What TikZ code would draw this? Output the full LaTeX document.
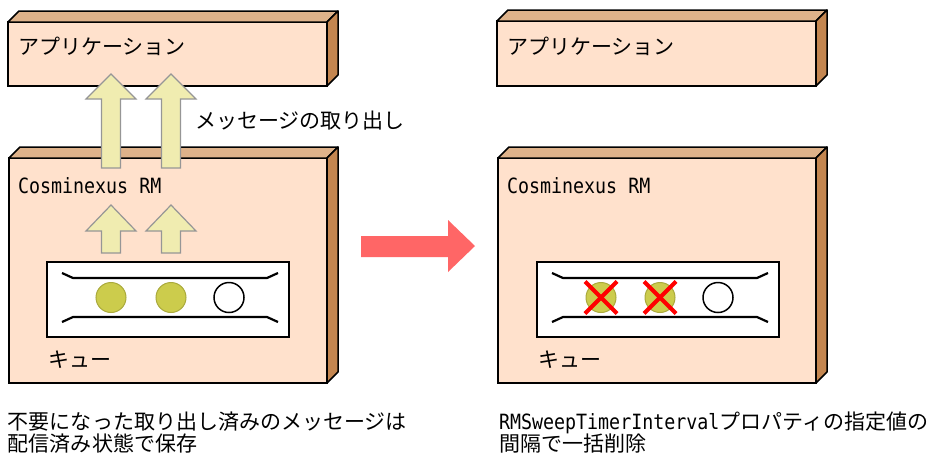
\documentclass[tikz,border=0pt]{standalone}
\usepackage{fontspec}
\setmainfont{Noto Sans CJK JP}
\newfontfamily\lat[FakeStretch=0.872]{DejaVu Sans Mono}
\definecolor{frontc}{RGB}{255,225,204}
\definecolor{topc}{RGB}{222,178,138}
\definecolor{sidec}{RGB}{196,134,80}
\definecolor{arrowy}{RGB}{240,236,176}
\definecolor{arrowg}{RGB}{150,150,150}
\definecolor{olive}{RGB}{204,204,76}
\definecolor{oliveb}{RGB}{170,170,60}
\definecolor{redarrow}{RGB}{255,102,102}
\tikzset{
  front/.style={draw=black, line width=1.5pt, fill=frontc, inner sep=0pt, outer sep=0pt, rectangle, anchor=north west},
  topface/.style={draw=black, line width=1.5pt, fill=topc, line join=round},
  sideface/.style={draw=black, line width=1.5pt, fill=sidec, line join=round},
  queuebox/.style={draw=black, line width=1.3pt, fill=white, inner sep=0pt, outer sep=0pt, rectangle, anchor=north west, minimum width=242pt, minimum height=75pt},
  qline/.style={draw=black, line width=2.2pt},
  msg/.style={circle, draw=oliveb, line width=1pt, fill=olive, minimum size=30pt, inner sep=0pt},
  msgempty/.style={circle, draw=black, line width=1.5pt, fill=white, minimum size=30pt, inner sep=0pt},
  uparrow/.style={draw=arrowg, line width=1.2pt, fill=arrowy, line join=miter},
  crossx/.style={draw=red, line width=4pt},
  lbl/.style={inner sep=0pt, outer sep=0pt, anchor=base west, font=\fontsize{21pt}{22pt}\selectfont},
}
\newcommand{\cuboidfaces}[1]{%
  \filldraw[topface] (#1.north west) -- ++(11pt,11pt) -- ([shift={(11pt,11pt)}]#1.north east) -- (#1.north east) -- cycle;
  \filldraw[sideface] (#1.north east) -- ++(11pt,11pt) -- ([shift={(11pt,11pt)}]#1.south east) -- (#1.south east) -- cycle;}
\newcommand{\queuelines}[1]{%
  \draw[qline] ([shift={(15pt,-11pt)}]#1.north west) -- ([shift={(26pt,-16pt)}]#1.north west) -- ([shift={(220pt,-16pt)}]#1.north west) -- ([shift={(231pt,-11pt)}]#1.north west);
  \draw[qline] ([shift={(15pt,-60pt)}]#1.north west) -- ([shift={(26pt,-55pt)}]#1.north west) -- ([shift={(220pt,-55pt)}]#1.north west) -- ([shift={(231pt,-60pt)}]#1.north west);}
\begin{document}
\begin{tikzpicture}[x=1pt,y=-1pt]
\useasboundingbox (0,0) rectangle (928,459);
\fill[white] (0,0) rectangle (928,459);
% left side
\node[front, minimum width=319pt, minimum height=64pt] (app1) at (8,22) {};
\cuboidfaces{app1}
\node[lbl] (app1lbl) at (18,54) {アプリケーション};
\node[front, minimum width=318pt, minimum height=225pt] (rm1) at (9,158) {};
\cuboidfaces{rm1}
\node[lbl] (rm1lbl) at (18,193) {\lat Cosminexus RM};
\node[queuebox] (q1) at (47,262) {};
\queuelines{q1}
\node[msg] (m11) at (111,297.5) {};
\node[msg] (m12) at (171,297.5) {};
\node[msgempty] (m13) at (229,297.5) {};
\node[lbl] (q1lbl) at (48,367) {キュー};
\foreach \cx in {111,171}{
  \filldraw[uparrow] (\cx,74) -- (\cx+25,99) -- (\cx+9.5,99) -- (\cx+9.5,168) -- (\cx-9.5,168) -- (\cx-9.5,99) -- (\cx-25,99) -- cycle;
  \filldraw[uparrow] (\cx,205) -- (\cx+25,231) -- (\cx+9.5,231) -- (\cx+9.5,253) -- (\cx-9.5,253) -- (\cx-9.5,231) -- (\cx-25,231) -- cycle;
}
\node[lbl] (getlbl) at (195,128) {メッセージの取り出し};
\node[lbl] (note1a) at (8,429.5) {不要になった取り出し済みのメッセージは};
\node[lbl] (note1b) at (8,451.5) {配信済み状態で保存};
% red arrow
\fill[redarrow] (361,236) -- (448,236) -- (448,220) -- (475,246) -- (448,272) -- (448,257) -- (361,257) -- cycle;
% right side
\node[front, minimum width=319pt, minimum height=65pt] (app2) at (497,21) {};
\cuboidfaces{app2}
\node[lbl] (app2lbl) at (507,54) {アプリケーション};
\node[front, minimum width=318pt, minimum height=225pt] (rm2) at (498,158) {};
\cuboidfaces{rm2}
\node[lbl] (rm2lbl) at (507,193) {\lat Cosminexus RM};
\node[queuebox] (q2) at (537,262) {};
\queuelines{q2}
\node[msg] (m21) at (601,297.5) {};
\node[msg] (m22) at (660,297.5) {};
\node[msgempty] (m23) at (718,297.5) {};
\foreach \m in {m21,m22}{
  \draw[crossx] ([shift={(-16pt,16pt)}]\m.center) -- ([shift={(16pt,-16pt)}]\m.center);
  \draw[crossx] ([shift={(-16pt,-16pt)}]\m.center) -- ([shift={(16pt,16pt)}]\m.center);
}
\node[lbl] (q2lbl) at (538,367) {キュー};
\node[lbl] (note2a) at (499,429.5) {{\lat RMSweepTimerInterval}プロパティの指定値の};
\node[lbl] (note2b) at (499,451.5) {間隔で一括削除};
\end{tikzpicture}
\end{document}
